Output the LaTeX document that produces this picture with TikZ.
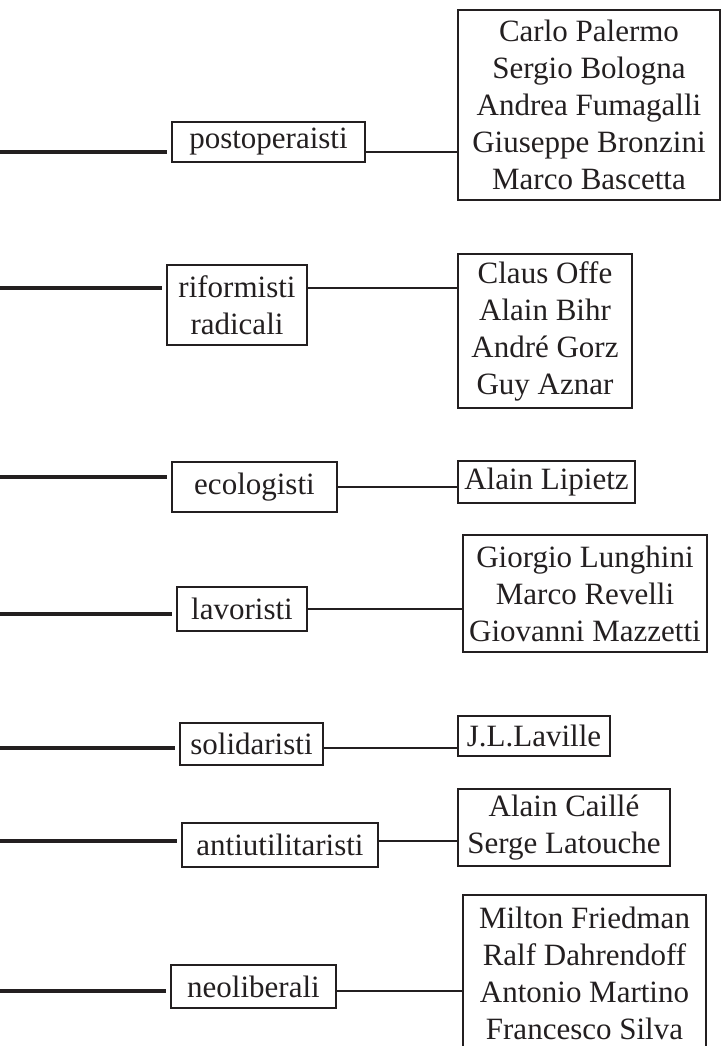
\documentclass[tikz,border=0pt]{standalone}
\usepackage{xcolor}
\usepackage{fontspec}
\setmainfont{Liberation Serif}
\usepackage{tikz}
\definecolor{inchiostro}{HTML}{231F20}
\tikzset{
  gruppo/.style={draw=inchiostro, line width=1.2pt, inner sep=0pt, align=center, text=inchiostro, font=\fontsize{15.5}{18.5}\selectfont},
  autori/.style={gruppo},
  ramo/.style={draw=inchiostro, line width=2.4pt, shorten >=2pt},
  filo/.style={draw=inchiostro, line width=1.1pt},
}

\begin{document}
\begin{tikzpicture}[x=0.5pt,y=-0.5pt]
\clip (0,0) rectangle (725,1046);
%gruppi
\node[gruppo, minimum width=96.5pt, minimum height=20pt] (post) at (268.5,142) {postoperaisti};
\node[gruppo, minimum width=70pt, minimum height=40pt] (rifo) at (237,305) {riformisti\\radicali};
\node[gruppo, minimum width=82.5pt, minimum height=25pt] (ecol) at (254.5,487) {ecologisti};
\node[gruppo, minimum width=65pt, minimum height=22pt] (lavo) at (242,609) {lavoristi};
\node[gruppo, minimum width=71.5pt, minimum height=21pt] (soli) at (251.5,744) {solidaristi};
\node[gruppo, minimum width=98pt, minimum height=22pt] (anti) at (280,845) {antiutilitaristi};
\node[gruppo, minimum width=82.5pt, minimum height=21.5pt] (neol) at (253.5,986.5) {neoliberali};
%autori
\node[autori, minimum width=131pt, minimum height=95pt] (a1) at (589,105) {Carlo Palermo\\Sergio Bologna\\Andrea Fumagalli\\Giuseppe Bronzini\\Marco Bascetta};
\node[autori, minimum width=87pt, minimum height=77pt] (a2) at (545,331) {Claus Offe\\Alain Bihr\\André Gorz\\Guy Aznar};
\node[autori, minimum width=88.5pt, minimum height=21pt] (a3) at (546.5,482) {Alain Lipietz};
\node[autori, minimum width=122pt, minimum height=58.5pt] (a4) at (585,593.5) {Giorgio Lunghini\\Marco Revelli\\Giovanni Mazzetti};
\node[autori, minimum width=76pt, minimum height=20pt] (a5) at (534,736) {J.L.Laville};
\node[autori, minimum width=106pt, minimum height=38.5pt] (a6) at (564,827.5) {Alain Caillé\\Serge Latouche};
\node[autori, minimum width=121.5pt, minimum height=78.5pt] (a7) at (584.5,973.5) {Milton Friedman\\Ralf Dahrendoff\\Antonio Martino\\Francesco Silva};
%linee
\coordinate (l1) at (0,152);
\coordinate (l2) at (0,288);
\coordinate (l3) at (0,477);
\coordinate (l4) at (0,614);
\coordinate (l5) at (0,748);
\coordinate (l6) at (0,841);
\coordinate (l7) at (0,991);
\draw[ramo] (l1) -- (l1 -| post.west);
\draw[filo] (l1 -| post.east) -- (l1 -| a1.west);
\draw[ramo] (l2) -- (l2 -| rifo.west);
\draw[filo] (l2 -| rifo.east) -- (l2 -| a2.west);
\draw[ramo] (l3) -- (l3 -| ecol.west);
\draw[filo] (ecol.east) -- (ecol.east -| a3.west);
\draw[ramo] (l4) -- (l4 -| lavo.west);
\draw[filo] (lavo.east) -- (lavo.east -| a4.west);
\draw[ramo] (l5) -- (l5 -| soli.west);
\draw[filo] (l5 -| soli.east) -- (l5 -| a5.west);
\draw[ramo] (l6) -- (l6 -| anti.west);
\draw[filo] (l6 -| anti.east) -- (l6 -| a6.west);
\draw[ramo] (l7) -- (l7 -| neol.west);
\draw[filo] (l7 -| neol.east) -- (l7 -| a7.west);
\end{tikzpicture}
\end{document}
